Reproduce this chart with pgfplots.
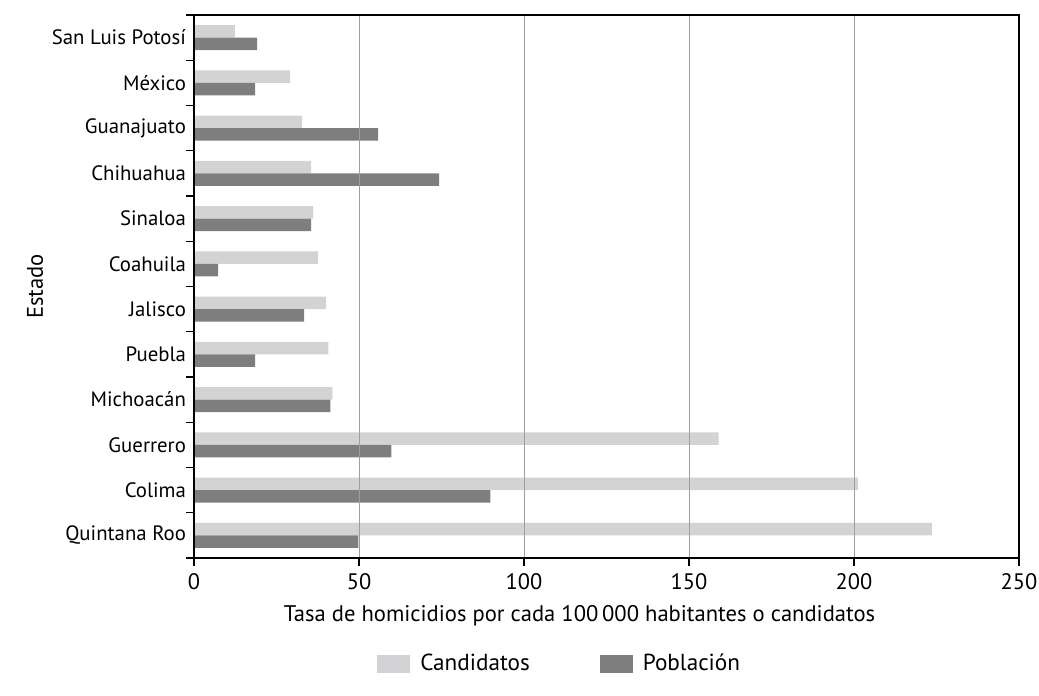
\documentclass[border=0pt]{standalone}
\usepackage{fontspec}
\setmainfont{PT Sans}
\usepackage{pgfplots}
\pgfplotsset{compat=1.18}
\definecolor{cand}{HTML}{D3D3D5}
\definecolor{pobl}{HTML}{7E7E7E}
\definecolor{gridc}{HTML}{9E9E9E}

\begin{document}
\begin{tikzpicture}
\useasboundingbox (0,0) rectangle (519.5pt,348pt);
\begin{axis}[
  at={(97pt,69pt)}, anchor=south west,
  scale only axis, width=412.5pt, height=271.5pt,
  xbar, bar width=6.25pt,
  xmin=0, xmax=250, ymin=-0.5, ymax=11.5, y dir=reverse,
  xtick={0,50,...,250},
  ytick={-0.5,0.5,...,11.5}, yticklabels={},
  extra y ticks={0,...,11},
  extra y tick labels={San Luis Potosí,México,Guanajuato,Chihuahua,Sinaloa,Coahuila,Jalisco,Puebla,Michoacán,Guerrero,Colima,Quintana Roo},
  extra y tick style={major tick length=0pt, yticklabel style={xshift=-0.5pt, font=\fontsize{10.4}{12}\selectfont}},
  tick align=outside, major tick length=4pt,
  xtick pos=bottom, ytick pos=left,
  xmajorgrids, major grid style={gridc, line width=0.5pt},
  axis line style={line width=0.6pt},
  tick style={black, line width=0.6pt},
  axis on top,
  /pgf/number format/assume math mode=true,
  tick label style={font=\fontsize{11.2}{13}\selectfont},
  xlabel={Tasa de homicidios por cada 100\,000 habitantes o candidatos},
  ylabel={Estado},
  label style={font=\fontsize{11.3}{13}\selectfont},
  xlabel style={yshift=-1pt, xshift=-13.5pt},
  ylabel shift=-6.5pt,
  legend style={at={(0.4445,-0.195)}, anchor=center, draw=none, legend columns=2,
    font=\fontsize{11.6}{13}\selectfont,
    /tikz/every odd column/.append style={column sep=3pt},
    /tikz/every even column/.append style={column sep=33pt}},
  legend image code/.code={\fill[#1] (0pt,-4.5pt) rectangle (16.5pt,4.5pt);},
]
\addplot[draw=none, fill=cand, bar shift=3.125pt] coordinates {
(12.4,0) (29.1,1) (32.8,2) (35.5,3) (36.1,4) (37.6,5) (40.0,6) (40.7,7) (41.9,8) (159.0,9) (201.2,10) (223.6,11)
};
\addplot[draw=none, fill=pobl, bar shift=-3.125pt] coordinates {
(19.1,0) (18.5,1) (55.8,2) (74.3,3) (35.5,4) (7.3,5) (33.4,6) (18.5,7) (41.3,8) (59.8,9) (89.8,10) (49.8,11)
};
\legend{Candidatos,Población}
\end{axis}
\end{tikzpicture}
\end{document}
